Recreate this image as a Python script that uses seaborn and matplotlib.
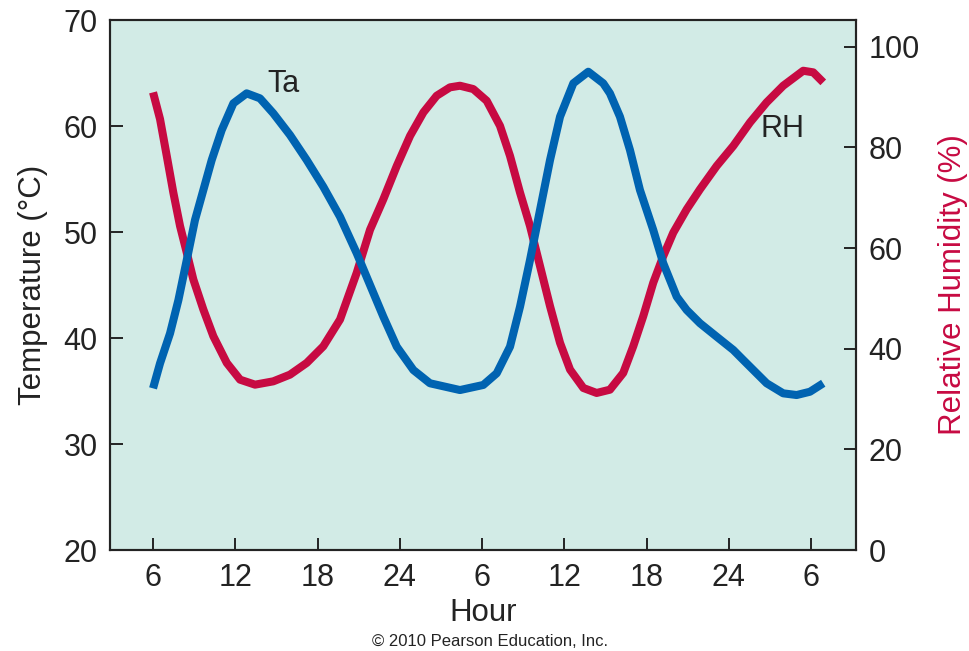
import numpy as np
import pandas as pd
import matplotlib
matplotlib.use("Agg")
import matplotlib.pyplot as plt
import seaborn as sns

# Air temperature (Ta) readings: hour (continuous, starting 06:00 day 1) and °C
ta_hours = [6.0, 6.51, 7.24, 7.85, 8.46, 9.06, 9.67, 10.28, 11.01, 11.86, 12.83, 13.80,
            14.77, 15.99, 17.21, 18.42, 19.64, 20.86, 21.83, 22.80, 23.78, 24.99, 26.20,
            28.39, 30.09, 31.07, 32.04, 32.77, 33.50, 34.23, 34.96, 35.69, 36.66, 37.75,
            38.84, 39.33, 40.06, 40.79, 41.52, 42.49, 43.22, 44.20, 44.93, 45.90, 47.12,
            48.33, 49.06, 50.03, 50.76, 51.97, 52.95, 53.92, 54.89]
ta_values = [35.25, 37.61, 40.44, 43.58, 47.36, 51.13, 53.96, 56.79, 59.62, 62.14, 63.08,
             62.61, 61.20, 59.15, 56.79, 54.27, 51.44, 47.99, 45.00, 42.01, 39.18, 36.98,
             35.73, 35.09, 35.57, 36.67, 39.18, 42.95, 47.36, 52.08, 56.79, 60.88, 64.03,
             65.12, 64.03, 63.08, 60.88, 57.74, 53.96, 50.19, 47.05, 43.90, 42.64, 41.39,
             40.12, 38.87, 37.92, 36.67, 35.73, 34.78, 34.62, 34.93, 35.73]

# Relative humidity readings (%)
rh_hours = [6.0, 6.51, 7.00, 7.48, 7.97, 8.46, 8.94, 9.67, 10.40, 11.38, 12.35, 13.44,
            14.77, 15.99, 17.21, 18.42, 19.64, 20.86, 21.83, 22.80, 23.78, 24.75, 25.72,
            26.69, 27.66, 28.39, 29.36, 30.34, 31.31, 32.04, 32.77, 33.50, 34.23, 34.96,
            35.69, 36.42, 37.39, 38.36, 39.33, 40.30, 41.03, 41.76, 42.49, 43.22, 43.95,
            44.93, 45.90, 47.12, 48.33, 49.55, 50.76, 51.97, 53.43, 54.16, 54.89]
rh_values = [90.92, 85.61, 78.30, 71.01, 64.36, 59.07, 53.75, 47.78, 42.46, 37.17, 33.84,
             32.85, 33.51, 34.84, 37.17, 40.47, 45.79, 55.09, 63.63, 69.68, 76.31, 82.28,
             86.94, 90.25, 91.92, 92.24, 91.58, 89.25, 84.27, 78.30, 71.01, 64.36, 56.40,
             48.44, 41.15, 35.84, 32.19, 31.20, 31.85, 35.18, 40.47, 46.45, 53.10, 58.39,
             63.05, 67.69, 71.67, 76.31, 80.29, 84.95, 88.93, 92.24, 95.22, 94.90, 92.91]

x_tick_pos = [6, 12, 18, 24, 30, 36, 42, 48, 54]
x_tick_labels = ["6", "12", "18", "24", "6", "12", "18", "24", "6"]
temp_ticks = [20, 30, 40, 50, 60, 70]
rh_ticks = [0, 20, 40, 60, 80, 100]

BLUE = "#0063b1"
RED = "#c70a42"
BG = "#d2ebe6"
DARK = "#232323"

sns.set_style("ticks")
plt.rcParams["font.family"] = ["Liberation Sans", "DejaVu Sans"]

fig = plt.figure(figsize=(9.69, 6.51), dpi=100)
fig.patch.set_facecolor("white")
ax = fig.add_axes([110 / 969, 1 - 550 / 651, (856 - 110) / 969, (550 - 20) / 651])
ax2 = ax.twinx()

ta_df = pd.DataFrame({"hour": ta_hours, "Ta": ta_values})
rh_df = pd.DataFrame({"hour": rh_hours, "RH": rh_values})

LW = 5.8
sns.lineplot(data=ta_df, x="hour", y="Ta", ax=ax, color=BLUE, linewidth=LW,
             sort=False, solid_capstyle="butt", solid_joinstyle="round", zorder=3)
sns.lineplot(data=rh_df, x="hour", y="RH", ax=ax2, color=RED, linewidth=LW,
             sort=False, solid_capstyle="butt", solid_joinstyle="round", zorder=2)

# blue drawn above red, shared background on the lower axes
ax.set_zorder(ax2.get_zorder() + 1)
ax.patch.set_visible(False)
ax2.patch.set_visible(True)
ax2.patch.set_facecolor(BG)

ax.set_xlim(2.86, 57.28)
ax.set_ylim(20, 70)
ax2.set_ylim(0, 105.3)

ax.set_xticks(x_tick_pos)
ax.set_xticklabels(x_tick_labels)
ax.set_yticks(temp_ticks)
ax2.set_yticks(rh_ticks)

fs = 22
ax.tick_params(axis="both", direction="in", length=9, width=1.4, color=DARK,
               labelsize=fs, labelcolor=DARK, pad=9)
ax2.tick_params(axis="y", direction="in", length=9, width=1.4, color=DARK,
                labelsize=fs, labelcolor=DARK, pad=9)

for a in (ax, ax2):
    for s in a.spines.values():
        s.set_visible(True)
        s.set_linewidth(1.5)
        s.set_color(DARK)

ax.set_xlabel("Hour", fontsize=22.5, color=DARK, labelpad=4)
ax.set_ylabel("Temperature (°C)", fontsize=22.5, color=DARK, labelpad=11)
ax2.set_ylabel("Relative Humidity (%)", fontsize=22.5, color=RED, labelpad=13)

ax.text(15.55, 64.0, "Ta", fontsize=fs, color=DARK, ha="center", va="center")
ax.text(51.9, 59.7, "RH", fontsize=fs, color=DARK, ha="center", va="center")

fig.text(490 / 969, 1 - 642 / 651, "© 2010 Pearson Education, Inc.", fontsize=12,
         color=DARK, ha="center", va="center")

fig.savefig("out.png", dpi=100, facecolor=fig.get_facecolor())
